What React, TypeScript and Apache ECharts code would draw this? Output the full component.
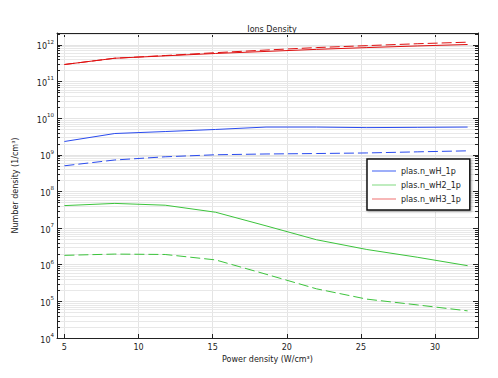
import React, { useEffect, useRef } from "react";
import * as echarts from "echarts";

// Power density (W/cm^3)
const powerDensity = [5, 8.4, 11.8, 15.2, 18.6, 22.0, 25.4, 28.8, 32.2];

// Number density (1/cm^3) — solid curves
const nH_solid = [2.3e9, 3.8e9, 4.3e9, 4.9e9, 5.7e9, 5.7e9, 5.5e9, 5.6e9, 5.7e9];
const nH2_solid = [4.1e7, 4.7e7, 4.2e7, 2.7e7, 1.15e7, 4.8e6, 2.6e6, 1.6e6, 9.4e5];
const nH3_solid = [2.9e11, 4.3e11, 5.0e11, 5.8e11, 6.6e11, 7.5e11, 8.4e11, 9.3e11, 1.02e12];

// Number density (1/cm^3) — dashed curves
const nH_dashed = [5.0e8, 7.2e8, 8.8e8, 1.0e9, 1.05e9, 1.08e9, 1.12e9, 1.2e9, 1.28e9];
const nH2_dashed = [1.8e6, 1.95e6, 1.9e6, 1.35e6, 5.5e5, 2.2e5, 1.15e5, 8.0e4, 5.5e4];
const nH3_dashed = [2.9e11, 4.3e11, 5.1e11, 6.1e11, 7.2e11, 8.4e11, 9.5e11, 1.07e12, 1.18e12];

const legendNames = ["plas.n_wH_1p", "plas.n_wH2_1p", "plas.n_wH3_1p"];

const X_MIN = 4.5;
const X_MAX = 32.9;
const Y_MIN = 1e4;
const Y_MAX = 2.1e12;

// minor log grid values (2..9 x 10^n)
const minorValues: number[] = [];
for (let n = 4; n <= 12; n++) {
  for (let k = 2; k <= 9; k++) {
    const v = k * Math.pow(10, n);
    if (v < Y_MAX) minorValues.push(v);
  }
}

const COLORS = ["#2a4bef", "#3cc43c", "#e01010"];
const LEGEND_COLORS = ["#3b5cf2", "#7fd87f", "#ee6f6f"];
const FONT = "DejaVu Sans";

function pairs(ys: number[]) {
  return powerDensity.map((x, i) => [x, ys[i]]);
}

export default function App() {
  const ref = useRef<HTMLDivElement>(null);
  useEffect(() => {
    if (!ref.current) return;
    const chart = echarts.init(ref.current, undefined, { renderer: "svg" });
    const lineSeries = (name: string, data: number[], color: string, dashed: boolean) => ({
      type: "line",
      name,
      data: pairs(data),
      showSymbol: false,
      symbol: "none",
      z: 3,
      lineStyle: { color, width: 1, type: dashed ? [10, 4] : "solid" },
      itemStyle: { color },
      silent: true,
    });
    chart.setOption({
      animation: false,
      backgroundColor: "#fff",
      title: {
        text: "Ions Density",
        left: 267,
        textAlign: "center",
        top: 20,
        textStyle: { fontSize: 8, fontWeight: "normal", fontFamily: FONT, color: "#222" },
      },
      grid: { left: 57, right: 20, top: 33, bottom: 40 },
      legend: {
        data: legendNames.map((n, i) => ({
          name: n,
          icon: "path://M0,0H24V1H0Z",
          itemStyle: { color: LEGEND_COLORS[i] },
        })),
        symbolKeepAspect: true,
        orient: "vertical",
        left: 367,
        top: 159,
        itemWidth: 24,
        itemHeight: 10,
        itemGap: 4,
        padding: [7, 9, 6, 5],
        borderColor: "#111",
        borderWidth: 1.5,
        backgroundColor: "#fff",
        shadowColor: "rgba(0,0,0,0.35)",
        shadowBlur: 2,
        shadowOffsetX: 1,
        shadowOffsetY: 1,
        textStyle: { fontSize: 8, fontFamily: FONT, color: "#222", lineHeight: 10 },
        selectedMode: false,
      },
      xAxis: [
        {
          type: "value",
          min: X_MIN,
          max: X_MAX,
          position: "bottom",
          name: "Power density (W/cm³)",
          nameLocation: "middle",
          nameGap: 14,
          nameTextStyle: { fontSize: 8, fontFamily: FONT, color: "#222" },
          axisLine: { show: true, lineStyle: { color: "#222", width: 1 } },
          axisTick: { show: true, inside: true, length: 4, lineStyle: { color: "#222" } },
          axisLabel: {
            fontSize: 8,
            fontFamily: FONT,
            color: "#222",
            margin: 5,
            formatter: (v: number) => (Math.abs(v / 5 - Math.round(v / 5)) < 1e-6 ? String(v) : ""),
          },
          splitLine: { show: true, lineStyle: { color: "#e4e4e4", width: 1 } },
        },
        {
          type: "value",
          min: X_MIN,
          max: X_MAX,
          position: "top",
          axisLine: { show: true, lineStyle: { color: "#222", width: 1 } },
          axisTick: { show: true, inside: true, length: 4, lineStyle: { color: "#222" } },
          axisLabel: { show: false },
          splitLine: { show: false },
        },
      ],
      yAxis: [
        {
          type: "log",
          logBase: 10,
          min: Y_MIN,
          max: Y_MAX,
          splitNumber: 8,
          position: "left",
          name: "Number density (1/cm³)",
          nameLocation: "middle",
          nameGap: 38,
          nameTextStyle: { fontSize: 8, fontFamily: FONT, color: "#222" },
          axisLine: { show: true, lineStyle: { color: "#222", width: 1 } },
          axisTick: { show: true, inside: true, length: 5, lineStyle: { color: "#222" } },
          axisLabel: {
            fontSize: 8,
            fontFamily: FONT,
            color: "#222",
            margin: 3,
            formatter: (v: number) => {
              const e = Math.log10(v);
              const r = Math.round(e);
              if (Math.abs(e - r) > 1e-6) return "";
              return `{b|10}{s|${r}}`;
            },
            rich: {
              b: { fontSize: 8, fontFamily: FONT, color: "#222", lineHeight: 12, verticalAlign: "bottom" },
              s: { fontSize: 5.5, fontFamily: FONT, color: "#222", lineHeight: 12, verticalAlign: "top" },
            },
          },
          splitLine: { show: true, lineStyle: { color: "#e4e4e4", width: 1 } },
        },
        {
          type: "log",
          logBase: 10,
          min: Y_MIN,
          max: Y_MAX,
          splitNumber: 8,
          position: "right",
          axisLine: { show: true, lineStyle: { color: "#222", width: 1 } },
          axisTick: { show: true, inside: true, length: 5, lineStyle: { color: "#222" } },
          axisLabel: { show: false },
          splitLine: { show: false },
        },
      ],
      series: [
        {
          type: "custom",
          name: "minor",
          silent: true,
          z: 1,
          xAxisIndex: 0,
          yAxisIndex: 0,
          data: minorValues.map((v) => [X_MIN, v]),
          renderItem: (params: any, api: any) => {
            const cs = params.coordSys;
            const y = Math.round(api.coord([X_MIN, api.value(1)])[1]) + 0.5;
            const x0 = cs.x;
            const x1 = cs.x + cs.width;
            return {
              type: "group",
              children: [
                { type: "line", shape: { x1: x0, y1: y, x2: x1, y2: y }, style: { stroke: "#e8e8e8", lineWidth: 1 } },
                { type: "line", shape: { x1: x0, y1: y, x2: x0 + 3, y2: y }, style: { stroke: "#222", lineWidth: 1 } },
                { type: "line", shape: { x1: x1 - 3, y1: y, x2: x1, y2: y }, style: { stroke: "#222", lineWidth: 1 } },
              ],
            };
          },
        },
        lineSeries(legendNames[0], nH_solid, COLORS[0], false),
        lineSeries(legendNames[1], nH2_solid, COLORS[1], false),
        lineSeries(legendNames[2], nH3_solid, COLORS[2], false),
        lineSeries("plas.n_wH_1p (dashed)", nH_dashed, COLORS[0], true),
        lineSeries("plas.n_wH2_1p (dashed)", nH2_dashed, COLORS[1], true),
        lineSeries("plas.n_wH3_1p (dashed)", nH3_dashed, COLORS[2], true),
      ],
    });
    return () => chart.dispose();
  }, []);
  return <div ref={ref} style={{ width: 498, height: 378, position: "absolute", left: 0, top: 0 }} />;
}
